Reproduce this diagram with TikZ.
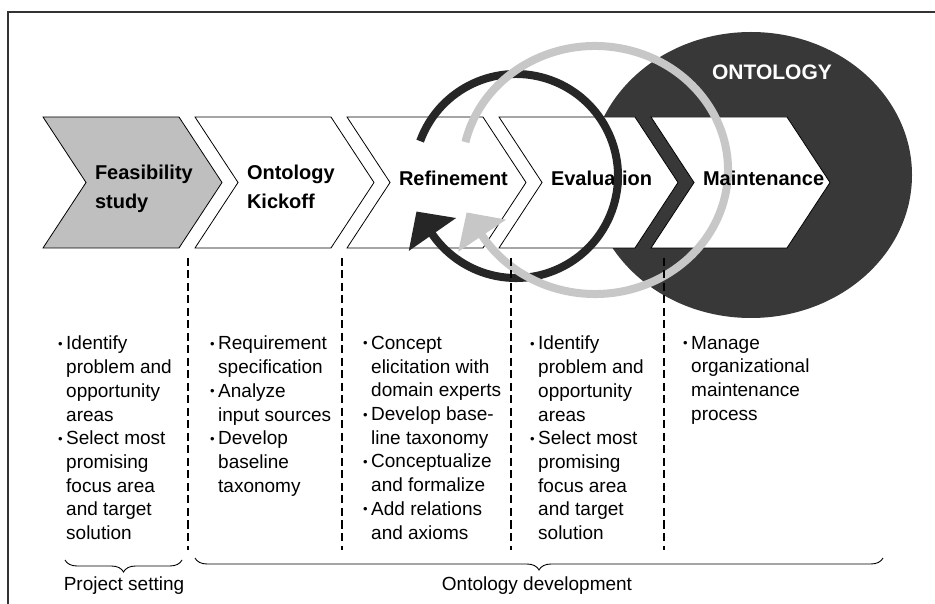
\documentclass[tikz,border=0pt]{standalone}
\usepackage{fontspec}
\setmainfont{Liberation Sans}
\usetikzlibrary{shapes.symbols, arrows.meta, decorations.pathreplacing}

\tikzstyle{chevron} = [signal, signal from=west, signal to=east, signal pointer angle=113.4, minimum width=179pt, minimum height=131pt, inner sep=0pt, outer sep=0pt, draw=black, line width=0.8pt, fill=white]
\tikzstyle{chevlabel} = [text width=75pt, align=left, inner sep=0pt, font=\bfseries\fontsize{20}{28.5}\selectfont]
\tikzstyle{itemlist} = [anchor=north west, align=left, inner sep=0pt, font=\fontsize{19}{23.7}\selectfont]
\tikzstyle{divider} = [line width=2.8pt, dash pattern=on 8pt off 4.5pt, black]
\tikzstyle{loopdark} = [line width=8pt, black!85, -{Triangle[length=28pt,width=56pt]}]
\tikzstyle{looplight} = [line width=8pt, black!22, -{Triangle[length=28pt,width=56pt]}]
\tikzstyle{phase} = [decorate, decoration={brace, mirror, amplitude=12pt}, line width=0.9pt]
\tikzstyle{caption} = [anchor=base, font=\fontsize{19}{19}\selectfont]

\newcommand{\itembul}{\makebox[8pt][l]{\raisebox{1.5pt}{\fontsize{13}{13}\selectfont\textbullet}}}
\newcommand{\itemind}{\hspace*{8pt}}

\begin{document}
\begin{tikzpicture}[x=1pt, y=1pt, node distance=152pt]
  \useasboundingbox (0,0) rectangle (935,603);
  \draw[line width=1.2pt, black!80] (8,-10) rectangle (950,591);

  % ontology background
  \fill[black!78] (751,428) ellipse [x radius=161, y radius=143];
  \node (onto) [anchor=base, text=white, font=\bfseries\fontsize{21}{21}\selectfont] at (772,523) {ONTOLOGY};

  % phases
  \node (feas) [chevron, fill=black!25] at (132.5,420.5) {};
  \node (kick) [chevron, right of=feas] {};
  \node (refine) [chevron, right of=kick] {};
  \node (eval) [chevron, right of=refine] {};
  \node (maint) [chevron, right of=eval] {};
  \node (evaltxt) [chevlabel, yshift=4.5pt] at (eval) {Evaluation};

  % iteration loops
  \coordinate (loopc) at (516,427);
  \coordinate (loopo) at (595,433);
  \draw[loopdark] ([shift={(160:102)}]loopc) arc[start angle=160, end angle=-145, radius=102] -- ++(-16,23);
  \draw[looplight] ([shift={(167:133 and 124)}]loopo) arc[start angle=167, end angle=-148, x radius=133, y radius=124] -- ++(-15.6,23.3);

  % phase names
  \node (feastxt) [chevlabel, yshift=-6.5pt] at (feas) {Feasibility\\study};
  \node (kicktxt) [chevlabel, yshift=-4.5pt] at (kick) {Ontology\\Kickoff};
  \node (refinetxt) [chevlabel, yshift=4.5pt] at (refine) {Refinement};
  \node (maintxt) [chevlabel, yshift=4.5pt] at (maint) {Maintenance};

  % column dividers
  \foreach \x in {188,342,511,664}
    \draw[divider] (\x,345) -- (\x,53);

  % activities
  \node (list1) [itemlist] at (58,267) {\itembul Identify\\ \itemind problem and\\ \itemind opportunity\\ \itemind areas\\ \itembul Select most\\ \itemind promising\\ \itemind focus area\\ \itemind and target\\ \itemind solution};
  \node (list2) [itemlist] at (210,267) {\itembul Requirement\\ \itemind specification\\ \itembul Analyze\\ \itemind input sources\\ \itembul Develop\\ \itemind baseline\\ \itemind taxonomy};
  \node (list3) [itemlist] at (363,267) {\itembul Concept\\ \itemind elicitation with\\ \itemind domain experts\\ \itembul Develop base-\\ \itemind line taxonomy\\ \itembul Conceptualize\\ \itemind and formalize\\ \itembul Add relations\\ \itemind and axioms};
  \node (list4) [itemlist] at (530,267) {\itembul Identify\\ \itemind problem and\\ \itemind opportunity\\ \itemind areas\\ \itembul Select most\\ \itemind promising\\ \itemind focus area\\ \itemind and target\\ \itemind solution};
  \node (list5) [itemlist] at (683,267) {\itembul Manage\\ \itemind organizational\\ \itemind maintenance\\ \itemind process};

  % groupings
  \draw[phase] (65,43) -- (182,43);
  \draw[phase] (195,45) -- (883,45);
  \node (setting) [caption] at (124,13) {Project setting};
  \node (develop) [caption] at (537,13) {Ontology development};
\end{tikzpicture}
\end{document}
